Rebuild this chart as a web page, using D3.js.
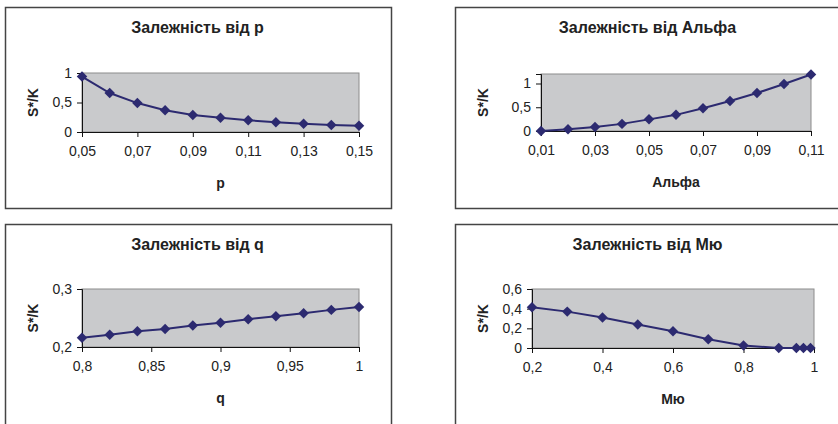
<!DOCTYPE html>
<html>
<head>
<meta charset="utf-8">
<script src="https://cdn.jsdelivr.net/npm/d3@7"></script>
<style>
body{margin:0;background:#fff;}
text{font-family:"Liberation Sans",Arial,sans-serif;fill:#222;}
</style>
</head>
<body>
<script>
// four small Excel style charts: S over K against p, Alpha, q and Mu

// chart 1 - p (category axis)
var pCats = ["0,05","0,06","0,07","0,08","0,09","0,1","0,11","0,12","0,13","0,14","0,15"];
var pVals = [0.94, 0.66, 0.49, 0.37, 0.29, 0.24, 0.2, 0.165, 0.14, 0.12, 0.105];
var pLabels = ["0,05","0,07","0,09","0,11","0,13","0,15"];
var pYTicks = [0, 0.5, 1];

// chart 2 - Alpha (category axis)
var aCats = ["0,01","0,02","0,03","0,04","0,05","0,06","0,07","0,08","0,09","0,1","0,11"];
var aVals = [0, 0.035, 0.085, 0.15, 0.245, 0.34, 0.48, 0.63, 0.8, 0.99, 1.19];
var aLabels = ["0,01","0,03","0,05","0,07","0,09","0,11"];
var aYTicks = [0, 0.5, 1];

// chart 3 - q (value axis)
var qX = [0.8, 0.82, 0.84, 0.86, 0.88, 0.9, 0.92, 0.94, 0.96, 0.98, 1];
var qVals = [0.216, 0.221, 0.227, 0.231, 0.237, 0.242, 0.248, 0.253, 0.258, 0.264, 0.269];
var qXTicks = [0.8, 0.85, 0.9, 0.95, 1];
var qYTicks = [0.2, 0.3];

// chart 4 - Mu (value axis)
var muX = [0.2, 0.3, 0.4, 0.5, 0.6, 0.7, 0.8, 0.9, 0.95, 0.97, 0.99];
var muVals = [0.415, 0.37, 0.31, 0.24, 0.17, 0.09, 0.025, 0, 0, 0, 0];
var muXTicks = [0.2, 0.4, 0.6, 0.8, 1];
var muYTicks = [0, 0.2, 0.4, 0.6];

var W = 838, H = 424;
var fmt = d3.formatLocale({decimal:",", thousands:" ", grouping:[3], currency:["",""]}).format("~g");

var svg = d3.select("body").append("svg").attr("width",W).attr("height",H);

var charts = [
	{title:"Залежність від p", xTitle:"p", frame:[5,7], plot:[82,73,359,132],
	 kind:"cat", cats:pCats, vals:pVals, labels:pLabels, yDom:[0,1], yTicks:pYTicks},
	{title:"Залежність від Альфа", xTitle:"Альфа", frame:[455,7], plot:[541,74,811,131],
	 kind:"cat", cats:aCats, vals:aVals, labels:aLabels, yDom:[0,1.2], yTicks:aYTicks},
	{title:"Залежність від q", xTitle:"q", frame:[5,224], plot:[82,289,359,347],
	 kind:"val", xs:qX, vals:qVals, xDom:[0.8,1], xTicks:qXTicks, yDom:[0.2,0.3], yTicks:qYTicks},
	{title:"Залежність від Мю", xTitle:"Мю", frame:[455,224], plot:[532,289,814,348],
	 kind:"val", xs:muX, vals:muVals, xDom:[0.2,1], xTicks:muXTicks, yDom:[0,0.6], yTicks:muYTicks}
];

charts.forEach(function(c){
	var fw = 386, fh = 201;
	var L = c.plot[0], T = c.plot[1], R = c.plot[2], B = c.plot[3];
	var g = svg.append("g");

	g.append("rect").attr("x",c.frame[0]+0.5).attr("y",c.frame[1]+0.5).attr("width",fw).attr("height",fh)
		.attr("fill","#fff").attr("stroke","#444").attr("stroke-width",1.5);

	g.append("text").attr("x",c.frame[0]+fw/2-0.5).attr("y",c.frame[1]+26).attr("text-anchor","middle")
		.attr("font-size","16px").attr("font-weight","bold").text(c.title);

	// plot area
	g.append("rect").attr("x",L).attr("y",T).attr("width",R-L).attr("height",B-T)
		.attr("fill","#c9cacc").attr("stroke","#8c8c8c").attr("stroke-width",1);

	var y = d3.scaleLinear().domain(c.yDom).range([B,T]);
	var x, pts;
	if(c.kind==="cat"){
		x = d3.scalePoint().domain(c.cats).range([L,R]);
		pts = c.cats.map(function(k,i){return [x(k), y(c.vals[i])];});
	}else{
		x = d3.scaleLinear().domain(c.xDom).range([L,R]);
		pts = c.xs.map(function(v,i){return [x(v), y(c.vals[i])];});
	}

	var yAxis = d3.axisLeft(y).tickValues(c.yTicks).tickSize(5).tickPadding(5).tickFormat(fmt);
	var ya = g.append("g").attr("transform","translate("+L+",0)").call(yAxis);

	var xAxis;
	if(c.kind==="cat"){
		xAxis = d3.axisBottom(x).tickValues(c.labels).tickSize(5).tickPadding(9);
	}else{
		xAxis = d3.axisBottom(x).tickValues(c.xTicks).tickSize(5).tickPadding(9).tickFormat(fmt);
	}
	var xa = g.append("g").attr("transform","translate(0,"+B+")").call(xAxis);

	[ya,xa].forEach(function(a){
		a.select(".domain").attr("stroke","#111");
		a.selectAll(".tick line").attr("stroke","#111");
		a.selectAll("text").attr("font-size","14px").attr("fill","#222")
			.attr("font-family","'Liberation Sans',Arial,sans-serif");
	});

	g.append("text").attr("x",(L+R)/2).attr("y",B+56).attr("text-anchor","middle")
		.attr("font-size","14px").attr("font-weight","bold").text(c.xTitle);
	g.append("text").attr("transform","translate("+(c.frame[0]+33)+","+((T+B)/2)+") rotate(-90)")
		.attr("text-anchor","middle").attr("font-size","14px").attr("font-weight","bold").text("S*/K");

	var line = d3.line();
	g.append("path").attr("d",line(pts)).attr("fill","none").attr("stroke","#2c2a70").attr("stroke-width",2);
	var sym = d3.symbol().type(d3.symbolDiamond2).size(70);
	g.selectAll(".mk").data(pts).enter().append("path").attr("class","mk")
		.attr("d",sym).attr("transform",function(d){return "translate("+d[0]+","+d[1]+")";})
		.attr("fill","#2c2a70");
});
</script>
</body>
</html>
